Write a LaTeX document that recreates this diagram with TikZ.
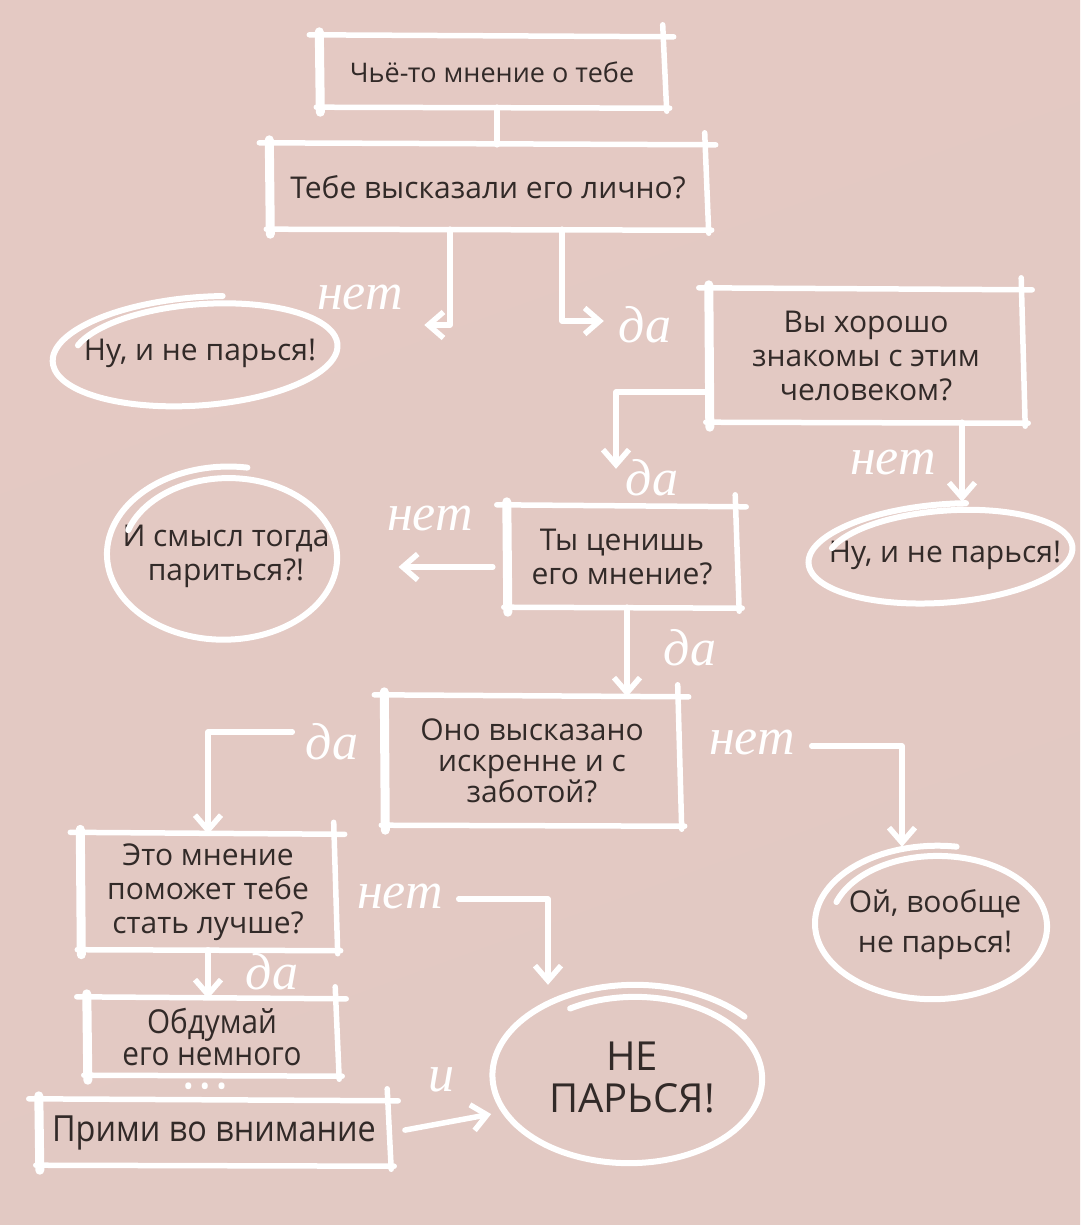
\documentclass[tikz,border=0pt]{standalone}
\usepackage{fontspec}
\setmainfont{Open Sans}
\newfontfamily\narrowfont[FakeStretch=0.9]{Open Sans}
\newfontfamily\handfont{Liberation Serif}
\usetikzlibrary{arrows.meta,shapes.geometric,calc}

\definecolor{ink}{RGB}{50,42,40}
\definecolor{bgA}{RGB}{228,201,195}
\definecolor{bgB}{RGB}{203,168,160}
\definecolor{bgC}{RGB}{226,201,195}

\tikzset{
  wstroke/.style={draw=white, line width=5.5pt, line cap=round, line join=round},
  wlink/.style={wstroke},
  warrow/.style={wstroke, -{Straight Barb[length=15pt,width=26pt]}},
  boxnode/.style={rectangle, inner sep=0pt, text=ink, align=center, font=\fontsize{30}{34}\selectfont},
  loopnode/.style={ellipse, inner sep=0pt, text=ink, align=center, font=\fontsize{30}{34}\selectfont},
  handlabel/.style={text=white, inner sep=0pt, font=\handfont\itshape\fontsize{52}{52}\selectfont},
}

% hand-drawn frame round a box node
\newcommand\handframe[1]{%
  \draw[wstroke] ([xshift=-10pt,yshift=2pt]#1.north west) -- ([xshift=9pt]#1.north east);
  \draw[wstroke] ([xshift=-3pt]#1.south west) -- ([xshift=5pt,yshift=-1pt]#1.south east);
  \draw[wstroke, line width=9pt] ([yshift=5pt]#1.north west) -- ([xshift=1pt,yshift=-5pt]#1.south west);
  \draw[wstroke] ([xshift=-2pt,yshift=12pt]#1.north east) -- ([xshift=2pt,yshift=-4pt]#1.south east);
}
% hand-drawn loop round an ellipse node: name, rx, ry, rotation, start angle
\newcommand\handloop[5]{%
  \begin{scope}[shift={(#1.center)}, rotate=#4]
    \draw[wstroke, line width=6pt] plot[smooth, domain=0:440, samples=100, variable=\t]
      ({#2*(0.86+0.16*\t/440)*cos(#5+\t)}, {#3*(0.86+0.16*\t/440)*sin(#5+\t)});
  \end{scope}}

\begin{document}
\begin{tikzpicture}[x=1pt,y=-1pt]
\useasboundingbox (0,0) rectangle (1080,1225);
\shade[top color=bgA, middle color=bgB, bottom color=bgC, shading angle=20] (0,0) rectangle (1080,1225);

% boxes
\node[boxnode, minimum width=345pt, minimum height=70pt, font=\fontsize{27}{32}\selectfont] (b1) at (492,72) {Чьё-то мнение о тебе};
\node[boxnode, minimum width=437pt, minimum height=84pt] (b2) at (488,187) {Тебе высказали его лично?};
\node[boxnode, minimum width=314pt, minimum height=132pt] (b3) at (866,356) {Вы хорошо\\знакомы с этим\\человеком?};
\node[boxnode, minimum width=230pt, minimum height=100pt] (b4) at (622,557) {Ты ценишь\\его мнение?};
\node[boxnode, minimum width=295pt, minimum height=128pt, font=\fontsize{30}{31}\selectfont] (b5) at (532,761) {Оно высказано\\искренне и с\\заботой?};
\node[boxnode, minimum width=255pt, minimum height=115pt] (b6) at (208,892) {Это мнение\\поможет тебе\\стать лучше?};
\node[boxnode, minimum width=250pt, minimum height=76pt, font=\narrowfont\fontsize{33}{32}\selectfont] (b7) at (212,1037) {Обдумай\\его немного};
\node[boxnode, minimum width=350pt, minimum height=64pt, font=\narrowfont\fontsize{36}{36}\selectfont] (b8) at (214,1133) {Прими во внимание};

% circled answers
\node[loopnode, minimum width=300pt, minimum height=110pt] (e1) at (200,353) {Ну, и не парься!};
\node[loopnode, minimum width=278pt, minimum height=100pt] (e2) at (945,555) {Ну, и не парься!};
\node[loopnode, minimum width=242pt, minimum height=176pt] (e3) at (226,556) {И смысл тогда\\париться?!};
\node[loopnode, minimum width=244pt, minimum height=156pt, font=\fontsize{30}{40}\selectfont] (e4) at (935,925) {Ой, вообще\\не парься!};
\node[loopnode, minimum width=288pt, minimum height=184pt, font=\fontsize{40}{42}\selectfont] (e5) at (632,1077) {НЕ\\ПАРЬСЯ!};

\node[text=white, inner sep=0pt, font=\fontsize{28}{28}\selectfont] (dots) at (205,1090) {•\hspace{6pt}•\hspace{6pt}•};

% frames and loops
\handframe{b1}
\handframe{b2}
\handframe{b3}
\handframe{b4}
\handframe{b5}
\handframe{b6}
\handframe{b7}
\handframe{b8}
\handloop{e1}{150}{55}{4}{200}
\handloop{e2}{139}{50}{4}{200}
\handloop{e3}{121}{88}{0}{200}
\handloop{e4}{122}{78}{0}{200}
\handloop{e5}{144}{92}{0}{240}

% connectors
\draw[wlink] ([xshift=5pt]b1.south) -- ([xshift=5pt]b1.south |- b2.north);
\draw[warrow, shorten >=60pt] ([xshift=-38pt]b2.south) |- ([yshift=28pt]e1.east);
\draw[warrow, shorten >=105pt] ([xshift=74pt]b2.south) |- ([yshift=35pt]b3.west);
\draw[warrow] ([yshift=-36pt]b3.west) -| ([xshift=-6pt,yshift=38pt]b4.north);
\draw[warrow, shorten >=3pt] ([xshift=96pt]b3.south) -- ([xshift=96pt]b3.south |- e2.north);
\draw[warrow, shorten <=14pt, shorten >=26pt] ([yshift=-10pt]b4.west) -- ([yshift=-10pt]b4.west -| e3.east);
\draw[warrow] ([xshift=5pt]b4.south) -- ([xshift=5pt]b4.south |- b5.north);
\draw[warrow, shorten <=92pt] ([yshift=29pt]b5.west) -| (b6.north);
\draw[warrow, shorten <=132pt] ([yshift=15pt]b5.east) -| ([xshift=-33pt]e4.north);
\draw[warrow, shorten <=123pt] ([yshift=-7pt]b6.east) -| ([xshift=-84pt]e5.north);
\draw[warrow] (b6.south) -- (b6.south |- b7.north);
\draw[warrow, shorten <=16pt, shorten >=8pt] (b8.east) -- (e5.195);

% handwritten labels
\node[handlabel] (l1) at (360,298) {нет};
\node[handlabel] (l2) at (645,325) {да};
\node[handlabel] (l3) at (652,478) {да};
\node[handlabel] (l4) at (893,462) {нет};
\node[handlabel] (l5) at (430,518) {нет};
\node[handlabel] (l6) at (690,648) {да};
\node[handlabel] (l7) at (332,742) {да};
\node[handlabel] (l8) at (752,742) {нет};
\node[handlabel] (l9) at (400,896) {нет};
\node[handlabel] (l10) at (272,972) {да};
\node[handlabel] (l11) at (441,1080) {и};
\end{tikzpicture}
\end{document}
